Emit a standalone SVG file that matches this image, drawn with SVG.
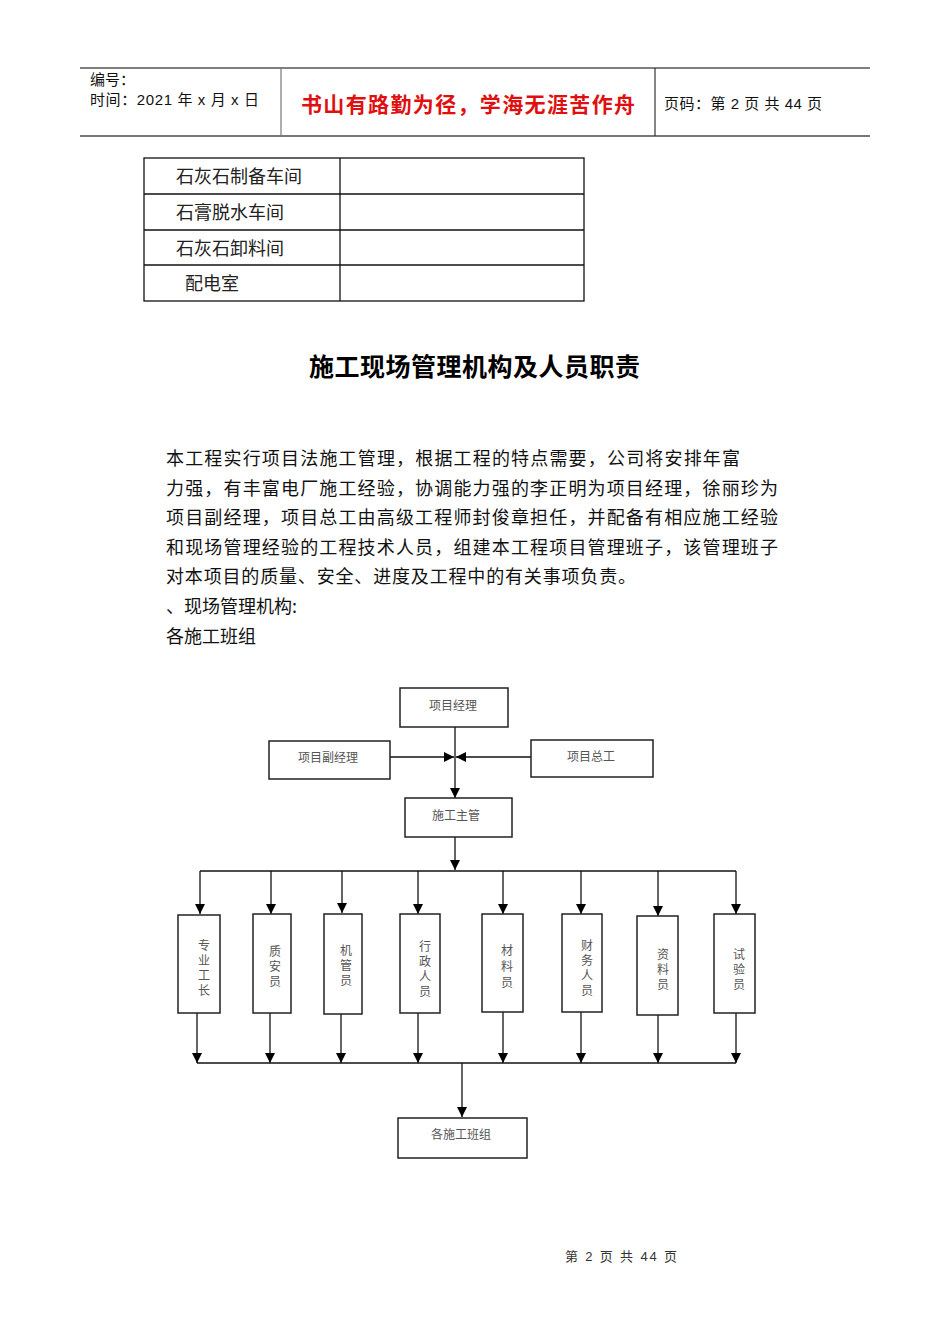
<svg xmlns="http://www.w3.org/2000/svg" width="950" height="1344" viewBox="0 0 950 1344">
<defs>
<marker id="ah" viewBox="0 0 10 10" refX="10" refY="5" markerWidth="10" markerHeight="10" markerUnits="userSpaceOnUse" orient="auto">
<path d="M0,0 L10,5 L0,10 Z" fill="#000"/>
</marker>
</defs>
<style>
.hd{font-family:"Liberation Sans","Noto Sans CJK SC",sans-serif;font-size:15px;fill:#111}
.tb{font-family:"Noto Sans CJK SC",sans-serif;font-size:18px;fill:#222}
.bd{font-family:"Noto Sans CJK SC",sans-serif;font-size:18px;fill:#111}
.bx{fill:#fff;stroke:#222;stroke-width:1.5}
.nt{font-family:"Noto Sans CJK SC",sans-serif;font-size:12px;fill:#555;text-anchor:middle}
.vt{font-family:"Noto Sans CJK SC",sans-serif;font-size:12px;fill:#555;text-anchor:middle}
.ln{fill:none;stroke:#111;stroke-width:1.3}
.ar{fill:none;stroke:#111;stroke-width:1.3;marker-end:url(#ah)}
</style>
<rect width="950" height="1344" fill="#fff"/>
<g id="header">
<line x1="80" y1="68" x2="870" y2="68" stroke="#555" stroke-width="1.5"/>
<line x1="80" y1="136" x2="870" y2="136" stroke="#777" stroke-width="2"/>
<line x1="281" y1="68" x2="281" y2="136" stroke="#777" stroke-width="1.2"/>
<line x1="655" y1="68" x2="655" y2="136" stroke="#333" stroke-width="1.2"/>
<text class="hd" x="90" y="85">编号：</text>
<text class="hd" x="90" y="105" textLength="169">时间：2021 年 x 月 x 日</text>
<text x="301" y="112" textLength="334" style="font-family:'Noto Sans CJK SC',sans-serif;font-size:21px;font-weight:bold;fill:#e01010">书山有路勤为径，学海无涯苦作舟</text>
<text class="hd" x="664" y="109" textLength="158">页码：第 2 页  共 44 页</text>
</g>
<g id="table">
<rect x="144" y="158" width="440" height="143" fill="none" stroke="#111" stroke-width="1.3"/>
<line x1="340" y1="158" x2="340" y2="301" stroke="#111" stroke-width="1.3"/>
<line x1="144" y1="194" x2="584" y2="194" stroke="#111" stroke-width="1.3"/>
<line x1="144" y1="230" x2="584" y2="230" stroke="#111" stroke-width="1.3"/>
<line x1="144" y1="265" x2="584" y2="265" stroke="#111" stroke-width="1.3"/>
<text class="tb" x="176" y="183">石灰石制备车间</text>
<text class="tb" x="176" y="219">石膏脱水车间</text>
<text class="tb" x="176" y="255">石灰石卸料间</text>
<text class="tb" x="185" y="290">配电室</text>
</g>
<g id="title">
<text x="309" y="376" textLength="331" style="font-family:'Noto Sans CJK SC',sans-serif;font-size:25px;font-weight:bold;fill:#000">施工现场管理机构及人员职责</text>
</g>
<g id="body">
<text class="bd" x="166" y="465" textLength="574">本工程实行项目法施工管理，根据工程的特点需要，公司将安排年富</text>
<text class="bd" x="166" y="495" textLength="612">力强，有丰富电厂施工经验，协调能力强的李正明为项目经理，徐丽珍为</text>
<text class="bd" x="166" y="524" textLength="612">项目副经理，项目总工由高级工程师封俊章担任，并配备有相应施工经验</text>
<text class="bd" x="166" y="554" textLength="612">和现场管理经验的工程技术人员，组建本工程项目管理班子，该管理班子</text>
<text class="bd" x="166" y="583" textLength="470">对本项目的质量、安全、进度及工程中的有关事项负责。</text>
<text class="bd" x="166" y="613">、现场管理机构:</text>
<text class="bd" x="166" y="643">各施工班组</text>
</g>
<g id="connectors">
<line class="ar" x1="455" y1="727" x2="455" y2="798"/>
<line class="ar" x1="390" y1="757" x2="454" y2="757"/>
<line class="ar" x1="531" y1="757" x2="456" y2="757"/>
<line class="ar" x1="455" y1="837" x2="455" y2="870"/>
<line class="ln" x1="200" y1="871" x2="736" y2="871"/>
<line class="ar" x1="200" y1="871" x2="200" y2="914"/>
<line class="ar" x1="271" y1="871" x2="271" y2="914"/>
<line class="ar" x1="342" y1="871" x2="342" y2="913"/>
<line class="ar" x1="418" y1="871" x2="418" y2="914"/>
<line class="ar" x1="503" y1="871" x2="503" y2="914"/>
<line class="ar" x1="581" y1="871" x2="581" y2="914"/>
<line class="ar" x1="658" y1="871" x2="658" y2="916"/>
<line class="ar" x1="736" y1="871" x2="736" y2="914"/>
<line class="ar" x1="197" y1="1013" x2="197" y2="1063"/>
<line class="ar" x1="270" y1="1013" x2="270" y2="1063"/>
<line class="ar" x1="341" y1="1014" x2="341" y2="1063"/>
<line class="ar" x1="418" y1="1013" x2="418" y2="1063"/>
<line class="ar" x1="503" y1="1012" x2="503" y2="1063"/>
<line class="ar" x1="581" y1="1012" x2="581" y2="1063"/>
<line class="ar" x1="658" y1="1015" x2="658" y2="1063"/>
<line class="ar" x1="736" y1="1013" x2="736" y2="1063"/>
<line class="ln" x1="197" y1="1063" x2="736" y2="1063"/>
<line class="ar" x1="462" y1="1063" x2="462" y2="1117"/>
</g>
<g id="n-jingli"><rect class="bx" x="400" y="688" width="108" height="39"/><text class="nt" x="453" y="710">项目经理</text></g>
<g id="n-fujingli"><rect class="bx" x="269" y="741" width="121" height="38"/><text class="nt" x="328" y="762">项目副经理</text></g>
<g id="n-zonggong"><rect class="bx" x="531" y="740" width="122" height="37"/><text class="nt" x="591" y="761">项目总工</text></g>
<g id="n-zhuguan"><rect class="bx" x="405" y="798" width="107" height="39"/><text class="nt" x="456" y="820">施工主管</text></g>
<g id="n-gongzhang"><rect class="bx" x="178" y="915" width="42" height="98"/><text class="vt"><tspan x="204" y="950">专</tspan><tspan x="204" y="965">业</tspan><tspan x="204" y="980">工</tspan><tspan x="204" y="995">长</tspan></text></g>
<g id="n-zhian"><rect class="bx" x="253" y="914" width="38" height="99"/><text class="vt"><tspan x="275" y="956">质</tspan><tspan x="275" y="971">安</tspan><tspan x="275" y="986">员</tspan></text></g>
<g id="n-jiguan"><rect class="bx" x="324" y="914" width="38" height="100"/><text class="vt"><tspan x="346" y="955">机</tspan><tspan x="346" y="970">管</tspan><tspan x="346" y="985">员</tspan></text></g>
<g id="n-xingzheng"><rect class="bx" x="400" y="914" width="40" height="99"/><text class="vt"><tspan x="425" y="951">行</tspan><tspan x="425" y="966">政</tspan><tspan x="425" y="981">人</tspan><tspan x="425" y="996">员</tspan></text></g>
<g id="n-cailiao"><rect class="bx" x="482" y="914" width="41" height="98"/><text class="vt"><tspan x="507" y="955">材</tspan><tspan x="507" y="971">料</tspan><tspan x="507" y="987">员</tspan></text></g>
<g id="n-caiwu"><rect class="bx" x="562" y="914" width="40" height="98"/><text class="vt"><tspan x="587" y="950">财</tspan><tspan x="587" y="965">务</tspan><tspan x="587" y="980">人</tspan><tspan x="587" y="995">员</tspan></text></g>
<g id="n-ziliao"><rect class="bx" x="637" y="916" width="41" height="99"/><text class="vt"><tspan x="663" y="959">资</tspan><tspan x="663" y="974">料</tspan><tspan x="663" y="989">员</tspan></text></g>
<g id="n-shiyan"><rect class="bx" x="714" y="914" width="41" height="99"/><text class="vt"><tspan x="739" y="959">试</tspan><tspan x="739" y="974">验</tspan><tspan x="739" y="989">员</tspan></text></g>
<g id="n-banzu"><rect class="bx" x="398" y="1118" width="129" height="40"/><text class="nt" x="461" y="1139">各施工班组</text></g>
<g id="footer">
<text x="565" y="1261" textLength="112" style="font-family:'Liberation Sans','Noto Sans CJK SC',sans-serif;font-size:13px;fill:#333">第 2 页 共 44 页</text>
</g>
</svg>
